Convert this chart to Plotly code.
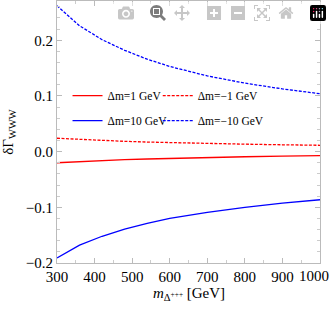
import plotly.graph_objects as go

m_vals = [300, 360, 420, 480, 540, 600, 700, 800, 900, 1000]
dm_p1 = [-0.020, -0.0178, -0.0160, -0.0145, -0.0132, -0.0121, -0.0105, -0.0092, -0.0081, -0.0071]
dm_m1 = [0.024, 0.0218, 0.0200, 0.0185, 0.0172, 0.0161, 0.0146, 0.0134, 0.0123, 0.0114]
dm_p10 = [-0.191, -0.168, -0.152, -0.139, -0.129, -0.120, -0.109, -0.100, -0.0926, -0.0864]
dm_m10 = [0.262, 0.226, 0.201, 0.182, 0.166, 0.153, 0.136, 0.123, 0.1126, 0.104]
names = ["Δm=1 GeV", "Δm=−1 GeV", "Δm=10 GeV", "Δm=−10 GeV"]
x_ticks = [300, 400, 500, 600, 700, 800, 900, 1000]
x_labels = ["300", "400", "500", "600", "700", "800", "900", ""]
x_last_label = "1000"
y_ticks = [-0.2, -0.1, 0.0, 0.1, 0.2]
y_labels = ["−0.2", "−0.1", "0.0", "0.1", "0.2"]

font = "Liberation Serif, Times New Roman, serif"
fig = go.Figure()
series = [(dm_p1, "red", "solid", names[0], "legend"), (dm_p10, "blue", "solid", names[2], "legend"),
          (dm_m1, "red", "3px,1.5px", names[1], "legend2"), (dm_m10, "blue", "3px,1.5px", names[3], "legend2")]
for i, (ys, c, d, n, lg) in enumerate(series):
    fig.add_trace(go.Scatter(x=m_vals, y=ys, mode="lines", name=n, legend=lg, legendgroup="g%d" % i,
                             line=dict(color=c, dash=d, width=1.3)))

axis_common = dict(showgrid=False, zeroline=False, showline=True, linecolor="#bbbbbb",
                   linewidth=1, mirror="ticks", ticks="inside", ticklen=5, tickcolor="#bbbbbb",
                   tickfont=dict(family=font, size=15, color="black"), ticklabeloverflow="allow",
                   automargin=False,
                   minor=dict(ticks="inside", ticklen=3, tickcolor="#cccccc", nticks=5))
fig.update_xaxes(range=[300, 1000], tickvals=x_ticks, ticktext=x_labels, **axis_common)
fig.update_yaxes(range=[-0.2, 0.2705], tickvals=y_ticks, ticktext=y_labels,
                 title=dict(text="δΓ<sub>WWW</sub>", font=dict(family=font, size=15, color="black"), standoff=14),
                 **axis_common)
leg = dict(yanchor="middle", y=0.591, font=dict(family=font, size=11.5, color="black"),
           bgcolor="rgba(0,0,0,0)", tracegroupgap=6, itemwidth=30)
fig.update_layout(width=332, height=309, margin=dict(l=57, r=12, t=1, b=46),
                  plot_bgcolor="white", paper_bgcolor="white",
                  legend=dict(x=0.04, xanchor="left", **leg),
                  legend2=dict(x=0.383, xanchor="left", **leg),
                  annotations=[
                      dict(text=x_last_label, xref="paper", yref="paper", x=1, y=0,
                           xanchor="right", yanchor="middle", xshift=11, yshift=-13, showarrow=False,
                           font=dict(family=font, size=15, color="black")),
                      dict(text="<i>m</i><sub>Δ<sup>+++</sup></sub> [GeV]", xref="paper", yref="paper",
                           x=0.5, y=-0.075, xanchor="center", yanchor="top", showarrow=False,
                           font=dict(family=font, size=15, color="black"))],
                  showlegend=True)
fig.write_html("out.html", post_script="document.body.style.margin='0';")
